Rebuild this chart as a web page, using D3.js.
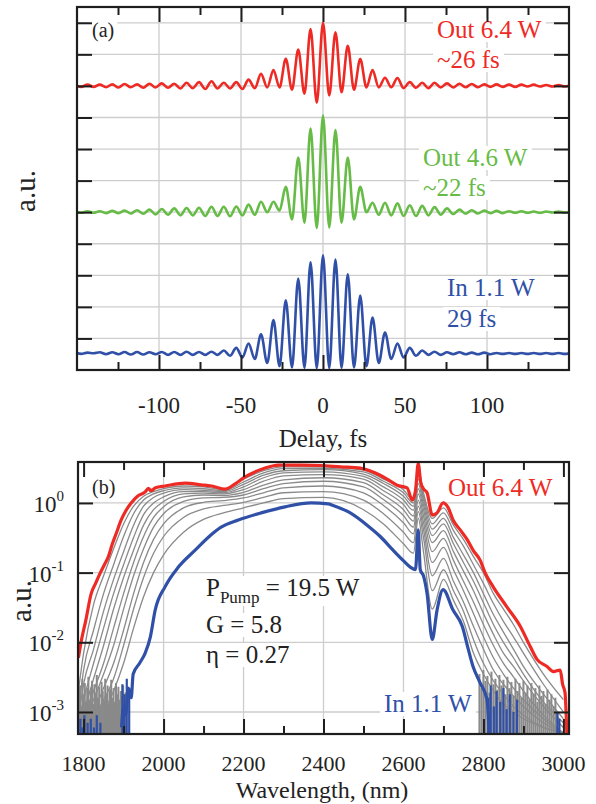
<!DOCTYPE html>
<html><head><meta charset="utf-8">
<script src="https://cdn.jsdelivr.net/npm/d3@7"></script>
<style>
body{margin:0;background:#fff}
svg{display:block}
text{font-family:"Liberation Serif","Tinos","DejaVu Serif",serif}
</style>
</head><body>
<svg id="c" width="596" height="804" font-family="Liberation Serif, Tinos, DejaVu Serif, serif"></svg>
<script>
// ---------------- Panel (a): interferometric autocorrelation traces ----------------
const delayFs = [-151.2,-147.4,-143.6,-139.9,-136.1,-132.3,-128.5,-124.7,-121.0,-117.2,-113.4,-109.6,-105.8,-102.1,-98.3,-94.5,-90.7,-86.9,-83.2,-79.4,-75.6,-71.8,-68.0,-64.3,-60.5,-56.7,-52.9,-49.1,-45.4,-41.6,-37.8,-34.0,-30.2,-26.5,-22.7,-18.9,-15.1,-11.3,-7.6,-3.8,0,3.8,7.6,11.3,15.1,18.9,22.7,26.5,30.2,34.0,37.8,41.6,45.4,49.1,52.9,56.7,60.5,64.3,68.0,71.8,75.6,79.4,83.2,86.9,90.7,94.5,98.3,102.1,105.8,109.6,113.4,117.2,121.0,124.7,128.5,132.3,136.1,139.9,143.6,147.4,151.2];
const traceOut64 = [8.03,7.97,8.04,7.97,8.04,7.96,8.05,7.95,8.06,7.96,8.05,7.94,8.07,7.95,8.08,7.94,8.07,7.92,8.10,7.93,8.12,7.90,8.15,7.92,8.10,7.92,8.12,7.90,8.20,7.93,8.38,7.95,8.50,7.95,8.86,7.88,9.15,7.75,9.80,7.47,10.0,7.70,9.70,7.80,9.27,7.88,8.85,7.95,8.50,7.95,8.26,7.96,8.25,7.93,8.12,7.94,8.10,7.93,8.10,7.95,8.08,7.95,8.07,7.96,8.06,7.96,8.05,7.97,8.05,7.97,8.04,7.97,8.04,7.98,8.04,7.98,8.03,7.98,8.03,7.98,8.03];
const traceOut46 = [4.02,3.98,4.03,3.98,4.03,3.97,4.04,3.97,4.05,3.96,4.06,3.95,4.08,3.93,4.10,3.92,4.12,3.90,4.13,3.90,4.14,3.88,4.17,3.88,4.17,3.87,4.18,3.90,4.24,3.92,4.33,4.00,4.33,4.05,4.80,3.77,5.73,3.67,6.65,3.50,7.06,3.52,6.60,3.67,5.73,3.77,4.80,4.00,4.30,3.92,4.30,3.90,4.28,3.88,4.22,3.88,4.20,3.90,4.16,3.92,4.12,3.94,4.08,3.95,4.06,3.96,4.05,3.97,4.04,3.97,4.03,3.98,4.03,3.98,4.02,3.98,4.02,3.99,4.02,3.99,4.02];
const traceIn11 = [-0.45,-0.49,-0.45,-0.47,-0.44,-0.50,-0.44,-0.50,-0.43,-0.51,-0.43,-0.51,-0.44,-0.50,-0.43,-0.52,-0.43,-0.52,-0.42,-0.52,-0.43,-0.52,-0.42,-0.52,-0.38,-0.55,-0.30,-0.60,-0.16,-0.65,0.13,-0.78,0.58,-0.88,1.21,-0.92,1.90,-0.93,2.41,-0.94,2.63,-0.94,2.50,-0.93,2.03,-0.92,1.36,-0.88,0.66,-0.78,0.19,-0.65,-0.16,-0.60,-0.30,-0.55,-0.38,-0.52,-0.42,-0.52,-0.44,-0.50,-0.44,-0.50,-0.45,-0.50,-0.45,-0.50,-0.46,-0.49,-0.46,-0.49,-0.46,-0.49,-0.46,-0.49,-0.46,-0.49,-0.46,-0.49,-0.46];
const delayMajor = [-100,-50,0,50,100];
const delayMinor = [-125,-75,-25,25,75,125];
const auTicksA = [0,1,2,3,4,5,6,7,8,9,10];

// ---------------- Panel (b): spectra ----------------
const redWl  = [1787,1795,1805,1819,1830,1842,1852,1862,1872,1882,1894,1906,1919,1935,1954,1962,1968,1980,2004,2054,2094,2120,2154,2180,2204,2254,2287,2342,2392,2442,2492,2524,2559,2584,2609,2622,2630,2637,2643,2650,2659,2672,2684,2699,2712,2724,2742,2759,2774,2792,2804,2824,2859,2892,2917,2934,2959,2975,2992,2998,3004,3009];
const redVal = [0.006,0.011,0.02,0.05,0.07,0.1,0.13,0.17,0.26,0.37,0.57,0.78,1.0,1.25,1.44,1.62,1.5,1.65,1.75,1.93,1.82,1.75,1.58,1.9,2.36,3.17,3.5,3.5,3.45,3.3,3.17,2.78,2.2,1.8,1.64,1.1,1.5,3.7,2.0,1.6,1.4,0.67,0.72,1.0,0.85,0.57,0.41,0.3,0.21,0.15,0.1,0.063,0.032,0.017,0.0087,0.0057,0.0045,0.0038,0.004,0.0025,0.0019,0.0004];
const blueWl  = [1895,1900,1905,1912,1919,1924,1940,1954,1967,1979,2004,2037,2079,2119,2144,2187,2244,2304,2369,2412,2424,2467,2509,2542,2574,2599,2617,2630,2637,2642,2650,2659,2672,2684,2699,2724,2747,2762,2774,2792,2809,2815];
const blueVal = [0.0006,0.0012,0.0009,0.0022,0.0016,0.0035,0.005,0.007,0.012,0.029,0.063,0.12,0.21,0.35,0.45,0.57,0.72,0.88,1.0,0.97,0.92,0.72,0.48,0.33,0.21,0.15,0.12,0.11,0.41,0.11,0.09,0.05,0.011,0.029,0.057,0.029,0.017,0.008,0.0045,0.0026,0.0015,0.0004];
const grayWl = [1787,1800,1825,1850,1875,1900,1925,1950,1975,2000,2050,2100,2150,2200,2250,2300,2400,2500,2550,2600,2625,2637,2650,2672,2700,2725,2750,2775,2800,2825,2850,2875,2900,2950,3000];
const gray1  = [5e-4,5e-4,7e-4,0.001,0.002,0.005,0.016,0.045,0.1,0.18,0.38,0.58,0.72,0.85,1.0,1.15,1.2,0.8,0.5,0.26,0.19,0.6,0.2,0.03,0.08,0.04,0.02,0.007,0.0035,0.002,0.0013,0.001,8e-4,6e-4,5e-4];
const gray2  = [5e-4,5e-4,8e-4,0.0015,0.003,0.009,0.03,0.085,0.19,0.33,0.62,0.82,0.92,1.02,1.2,1.4,1.45,1.1,0.7,0.38,0.27,0.75,0.32,0.055,0.11,0.055,0.028,0.011,0.005,0.0028,0.0018,0.0012,9e-4,6e-4,5e-4];
const gray3  = [5e-4,6e-4,0.001,0.0022,0.005,0.015,0.05,0.14,0.3,0.5,0.85,1.02,1.08,1.18,1.4,1.65,1.75,1.4,0.92,0.52,0.36,0.9,0.42,0.09,0.16,0.075,0.038,0.017,0.008,0.004,0.0025,0.0017,0.0012,7e-4,5e-4];
const gray4  = [5e-4,7e-4,0.0015,0.0035,0.009,0.03,0.09,0.22,0.45,0.7,1.05,1.18,1.2,1.3,1.6,1.9,2.05,1.7,1.12,0.66,0.45,1.1,0.53,0.14,0.23,0.11,0.055,0.026,0.012,0.006,0.0035,0.0022,0.0015,8e-4,5e-4];
const gray5  = [5e-4,8e-4,0.002,0.005,0.016,0.05,0.14,0.33,0.62,0.88,1.22,1.3,1.28,1.42,1.8,2.15,2.3,1.95,1.3,0.8,0.55,1.35,0.66,0.2,0.31,0.15,0.075,0.038,0.018,0.009,0.005,0.0032,0.002,9e-4,5e-4];
const gray6  = [6e-4,0.001,0.003,0.009,0.03,0.085,0.21,0.48,0.8,1.05,1.35,1.38,1.35,1.55,2.05,2.45,2.55,2.2,1.5,0.95,0.65,1.6,0.8,0.27,0.4,0.2,0.105,0.055,0.026,0.013,0.007,0.0045,0.0028,0.0012,6e-4];
const gray7  = [7e-4,0.0015,0.005,0.016,0.05,0.13,0.32,0.68,1.0,1.22,1.45,1.45,1.4,1.7,2.3,2.7,2.8,2.4,1.7,1.1,0.78,1.9,0.95,0.34,0.5,0.26,0.14,0.075,0.037,0.018,0.01,0.006,0.0035,0.0014,7e-4];
const gray8  = [8e-4,0.0025,0.008,0.028,0.08,0.2,0.48,0.9,1.2,1.38,1.55,1.52,1.45,1.85,2.5,2.9,3.0,2.6,1.9,1.25,0.9,2.2,1.1,0.42,0.6,0.32,0.18,0.1,0.05,0.025,0.014,0.008,0.0045,0.0018,8e-4];
const gray9  = [0.001,0.004,0.015,0.05,0.13,0.33,0.7,1.1,1.35,1.5,1.65,1.6,1.5,2.0,2.7,3.1,3.15,2.8,2.05,1.4,1.0,2.6,1.25,0.5,0.72,0.4,0.24,0.13,0.07,0.036,0.02,0.012,0.007,0.0025,0.001];
const gray10 = [0.002,0.007,0.035,0.09,0.22,0.5,0.9,1.25,1.45,1.6,1.75,1.7,1.55,2.2,2.9,3.3,3.3,2.95,2.2,1.55,1.1,3.0,1.4,0.6,0.85,0.48,0.3,0.17,0.1,0.05,0.03,0.018,0.01,0.0035,0.0015];
const grayNoiseWl  = [1788,1791,1794,1797,1800,1803,1806,1809,1812,1815,1818,1821,1824,1827,1830,1833,1836,1839,1842,1845,1848,1851,1854,1857,1860,1863,1866,1869,1872,1875,1878,1881,1884,1887,1890,1893,1896,1899,1902,1905,
                      2790,2795,2800,2805,2810,2815,2820,2825,2830,2835,2840,2845,2850,2855,2860,2865,2870,2875,2880,2885,2890,2895,2900,2905,2910,2915,2920,2925,2930,2935,2940,2945,2950,2955,2960,2965,2970,2975,2980,2985];
const grayNoiseTop = [0.0016,0.0024,0.0012,0.003,0.0018,0.0026,0.0014,0.0022,0.0032,0.0015,0.002,0.0028,0.0013,0.0025,0.0019,0.0034,0.0016,0.0023,0.0012,0.0027,0.002,0.0015,0.003,0.0018,0.0024,0.0013,0.0021,0.0029,0.0016,0.0022,0.0014,0.0026,0.0018,0.0023,0.0015,0.002,0.0017,0.0024,0.0013,0.0019,
                      0.0035,0.0022,0.004,0.0028,0.0033,0.0019,0.0038,0.0025,0.003,0.0021,0.0034,0.0024,0.0029,0.0018,0.0032,0.0022,0.0027,0.0017,0.003,0.002,0.0026,0.0016,0.0028,0.0019,0.0024,0.0015,0.0026,0.0018,0.0022,0.0014,0.0024,0.0017,0.002,0.0013,0.0021,0.0015,0.0018,0.0012,0.0016,0.001];
const blueNoiseWl  = [1792,1797,1802,1810,1818,1826,1833,1842,1897,1902,1908,1914,2812,2818,2826,2833,2842,2850,2858,2866,2875,2884,2985,2990];
const blueNoiseTop = [8e-4,6e-4,9e-4,7e-4,8e-4,6e-4,9e-4,7e-4,0.0025,0.0018,0.003,0.0022,0.0016,0.0024,0.0012,0.002,0.0014,0.0022,0.0011,0.0018,0.001,0.0015,0.001,8e-4];
const wlMajor = [1800,2000,2200,2400,2600,2800,3000];
const wlMinor = [1900,2100,2300,2500,2700,2900];
const wlGrid  = [2000,2200,2400,2600,2800];
const decades = [1e-3,1e-2,1e-1,1];
const decadeExp = ["-3","-2","-1","0"];

// ---------------- colours ----------------
const cRed = "#ee2a24", cGreen = "#66bc46", cBlue = "#3050a8", cGray = "#8a8a8a", cGrid = "#cdcdcd", cAxis = "#1e1e1e";
const FONT = "Liberation Serif, Tinos, DejaVu Serif, serif";

const svg = d3.select("#c");

function label(g, x, y, txt, color, size, anchor, pad) {
  const t = g.append("text").attr("x", x).attr("y", y).attr("fill", color).attr("font-family", FONT)
    .attr("font-size", size).attr("text-anchor", anchor || "start").text(txt);
  if (pad !== undefined) {
    const b = t.node().getBBox();
    g.insert("rect", () => t.node()).attr("x", b.x - pad).attr("y", b.y + 2).attr("width", b.width + 2 * pad)
      .attr("height", b.height - 3).attr("fill", "#fff");
  }
  return t;
}

function frameAxes(g, x, y, box, xMaj, xMin, yMaj) {
  const rm = s => s.call(a => a.select(".domain").remove()).selectAll("line").attr("stroke", cAxis).attr("stroke-width", 2);
  g.append("g").attr("transform", `translate(0,${box.b})`).call(d3.axisBottom(x).tickValues(xMaj).tickSize(-15).tickFormat("")).call(rm);
  g.append("g").attr("transform", `translate(0,${box.b})`).call(d3.axisBottom(x).tickValues(xMin).tickSize(-8).tickFormat("")).call(rm);
  g.append("g").attr("transform", `translate(0,${box.t})`).call(d3.axisTop(x).tickValues(xMaj).tickSize(-15).tickFormat("")).call(rm);
  g.append("g").attr("transform", `translate(0,${box.t})`).call(d3.axisTop(x).tickValues(xMin).tickSize(-8).tickFormat("")).call(rm);
  g.append("g").attr("transform", `translate(${box.l},0)`).call(d3.axisLeft(y).tickValues(yMaj).tickSize(-15).tickFormat("")).call(rm);
  g.append("g").attr("transform", `translate(${box.r},0)`).call(d3.axisRight(y).tickValues(yMaj).tickSize(-15).tickFormat("")).call(rm);
  g.append("rect").attr("x", box.l).attr("y", box.t).attr("width", box.r - box.l).attr("height", box.b - box.t)
    .attr("fill", "none").attr("stroke", cAxis).attr("stroke-width", 2.2);
}

// ================= Panel (a) =================
const A = {l: 77, r: 569, t: 7, b: 370};
const xA = d3.scaleLinear().domain([-150, 150]).range([A.l, A.r]);
const yA = d3.scaleLinear().domain([-1, 10.5]).range([A.b, A.t]);
const ga = svg.append("g");
ga.append("clipPath").attr("id", "clipA").append("rect").attr("x", A.l).attr("y", A.t).attr("width", A.r - A.l).attr("height", A.b - A.t);

ga.append("g").selectAll("line").data(delayMajor).join("line")
  .attr("x1", d => xA(d)).attr("x2", d => xA(d)).attr("y1", A.t).attr("y2", A.b)
  .attr("stroke", cGrid).attr("stroke-width", 1.3);
ga.append("g").selectAll("line").data(auTicksA).join("line")
  .attr("x1", A.l).attr("x2", A.r).attr("y1", d => yA(d)).attr("y2", d => yA(d))
  .attr("stroke", cGrid).attr("stroke-width", 1.3);

const lineA = d3.line().x(d => xA(d[0])).y(d => yA(d[1])).curve(d3.curveMonotoneX);
const tracesA = [[traceOut64, cRed], [traceOut46, cGreen], [traceIn11, cBlue]];
const plotA = ga.append("g").attr("clip-path", "url(#clipA)");
tracesA.forEach(([vals, col]) => {
  plotA.append("path").datum(delayFs.map((t, i) => [t, vals[i]]))
    .attr("d", lineA).attr("fill", "none").attr("stroke", col).attr("stroke-width", 2.6).attr("stroke-linejoin", "round");
});

const labA = ga.append("g");
label(labA, 92, 37, "(a)", "#222", 20, "start", 3);
label(labA, 437, 38, "Out 6.4 W", cRed, 25, "start", 4);
label(labA, 437, 68, "~26 fs", cRed, 25, "start", 4);
label(labA, 423, 166, "Out 4.6 W", cGreen, 25, "start", 4);
label(labA, 423, 196, "~22 fs", cGreen, 25, "start", 4);
label(labA, 447, 296, "In 1.1 W", cBlue, 25, "start", 4);
label(labA, 447, 327, "29 fs", cBlue, 25, "start", 4);

frameAxes(ga, xA, yA, A, delayMajor, delayMinor, auTicksA);
ga.append("g").selectAll("text").data(delayMajor).join("text")
  .attr("x", d => xA(d)).attr("y", 413).attr("text-anchor", "middle").attr("font-size", 23).attr("font-family", FONT).attr("fill", "#222")
  .text(d => d);
ga.append("text").attr("x", 323).attr("y", 447).attr("text-anchor", "middle").attr("font-size", 25).attr("font-family", FONT).attr("fill", "#222").text("Delay, fs");
ga.append("text").attr("transform", "translate(35,191) rotate(-90)").attr("text-anchor", "middle").attr("font-size", 29).attr("font-family", FONT).attr("fill", "#222").text("a.u.");

// ================= Panel (b) =================
const B = {l: 78, r: 569, t: 462, b: 734};
const xB = d3.scaleLinear().domain([1786, 3014]).range([B.l, B.r]);
const yB = d3.scaleLog().domain([4.83e-4, 3.87]).range([B.b, B.t]);
const gb = svg.append("g");
gb.append("clipPath").attr("id", "clipB").append("rect").attr("x", B.l).attr("y", B.t).attr("width", B.r - B.l).attr("height", B.b - B.t);

gb.append("g").selectAll("line").data(wlGrid).join("line")
  .attr("x1", d => xB(d)).attr("x2", d => xB(d)).attr("y1", B.t).attr("y2", B.b)
  .attr("stroke", cGrid).attr("stroke-width", 1.3);
gb.append("g").selectAll("line").data(decades).join("line")
  .attr("x1", B.l).attr("x2", B.r).attr("y1", d => yB(d)).attr("y2", d => yB(d))
  .attr("stroke", cGrid).attr("stroke-width", 1.3);

const labB = gb.append("g");
const pTxt = labB.append("text").attr("x", 206).attr("y", 596).attr("font-size", 25).attr("font-family", FONT).attr("fill", "#222");
pTxt.append("tspan").text("P");
pTxt.append("tspan").attr("font-size", 17).attr("dy", 7).text("Pump");
pTxt.append("tspan").attr("dy", -7).text(" = 19.5 W");
{ const b = pTxt.node().getBBox();
  labB.insert("rect", () => pTxt.node()).attr("x", b.x - 4).attr("y", b.y + 2).attr("width", b.width + 8).attr("height", b.height - 3).attr("fill", "#fff"); }
label(labB, 206, 633, "G = 5.8", "#222", 25, "start", 4);
label(labB, 206, 663, "\u03B7 = 0.27", "#222", 25, "start", 4);

const plotB = gb.append("g").attr("clip-path", "url(#clipB)");
const lineB = d3.line().x(d => xB(d[0])).y(d => yB(d[1])).curve(d3.curveMonotoneX);
plotB.append("g").selectAll("line").data(grayNoiseWl.map((w, i) => [w, grayNoiseTop[i]])).join("line")
  .attr("x1", d => xB(d[0])).attr("x2", d => xB(d[0])).attr("y1", B.b).attr("y2", d => yB(d[1]))
  .attr("stroke", cGray).attr("stroke-width", 2);
[gray1, gray2, gray3, gray4, gray5, gray6, gray7, gray8, gray9, gray10].forEach(vals => {
  plotB.append("path").datum(grayWl.map((w, i) => [w, vals[i]])).attr("d", lineB)
    .attr("fill", "none").attr("stroke", cGray).attr("stroke-width", 1.3);
});
plotB.append("g").selectAll("line").data(blueNoiseWl.map((w, i) => [w, blueNoiseTop[i]])).join("line")
  .attr("x1", d => xB(d[0])).attr("x2", d => xB(d[0])).attr("y1", B.b).attr("y2", d => yB(d[1]))
  .attr("stroke", cBlue).attr("stroke-width", 2.2);
plotB.append("path").datum(blueWl.map((w, i) => [w, blueVal[i]])).attr("d", lineB)
  .attr("fill", "none").attr("stroke", cBlue).attr("stroke-width", 3.2).attr("stroke-linejoin", "round");
plotB.append("path").datum(redWl.map((w, i) => [w, redVal[i]])).attr("d", lineB)
  .attr("fill", "none").attr("stroke", cRed).attr("stroke-width", 3.2).attr("stroke-linejoin", "round");

label(labB, 448, 496, "Out 6.4 W", cRed, 25, "start", 4);
label(labB, 384, 712, "In 1.1 W", cBlue, 25, "start", 4);
label(labB, 92, 494, "(b)", "#222", 20, "start", 3);

frameAxes(gb, xB, yB, B, wlMajor, wlMinor, decades);
gb.append("g").selectAll("text").data(wlMajor).join("text")
  .attr("x", d => xB(d)).attr("y", 771).attr("text-anchor", "middle").attr("font-size", 22).attr("font-family", FONT).attr("fill", "#222")
  .text(d => d);
const yl = gb.append("g").selectAll("text").data(decades).join("text")
  .attr("x", 64).attr("y", d => yB(d) + 9).attr("text-anchor", "end").attr("font-size", 23).attr("font-family", FONT).attr("fill", "#222");
yl.append("tspan").text("10");
yl.append("tspan").attr("dy", -11).attr("font-size", 15).text((d, i) => decadeExp[i]);
gb.append("text").attr("x", 322).attr("y", 798).attr("text-anchor", "middle").attr("font-size", 24).attr("font-family", FONT).attr("fill", "#222").text("Wavelength, (nm)");
gb.append("text").attr("transform", "translate(31,601) rotate(-90)").attr("text-anchor", "middle").attr("font-size", 29).attr("font-family", FONT).attr("fill", "#222").text("a.u.");
</script>
</body></html>
